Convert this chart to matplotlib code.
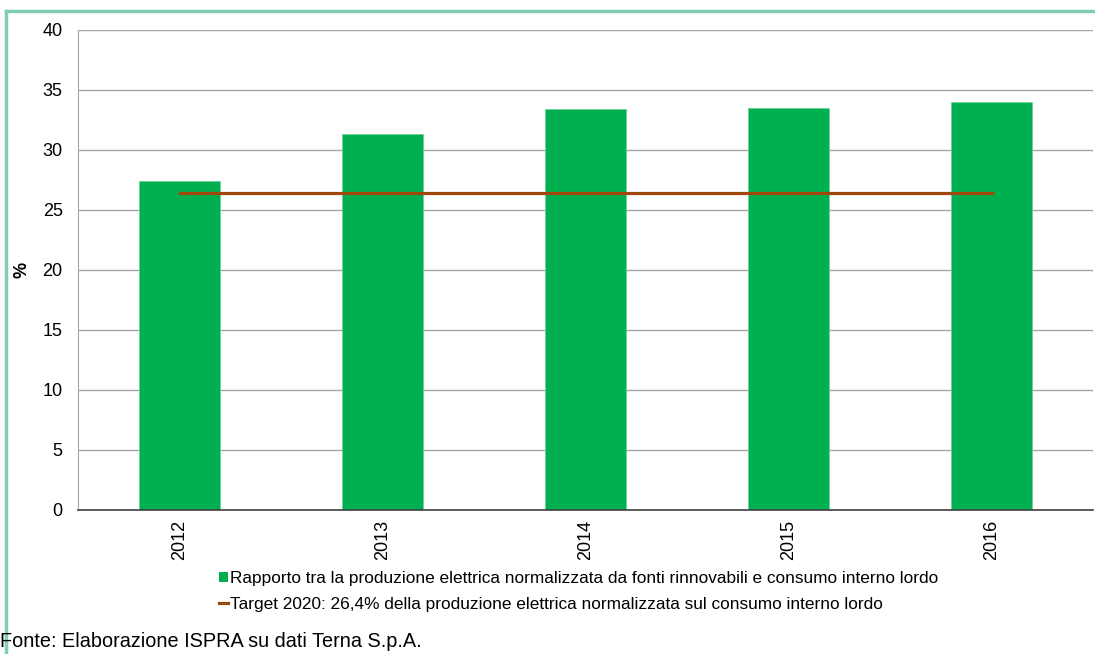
from matplotlib import pyplot as plt
from matplotlib.lines import Line2D
from matplotlib.patches import Patch
import numpy as np

years = ["2012", "2013", "2014", "2015", "2016"]
ratio = [27.4, 31.3, 33.4, 33.5, 34.0]
target = [26.4, 26.4, 26.4, 26.4, 26.4]

bar_label = "Rapporto tra la produzione elettrica normalizzata da fonti rinnovabili e consumo interno lordo"
line_label = "Target 2020: 26,4% della produzione elettrica normalizzata sul consumo interno lordo"
source = "Fonte: Elaborazione ISPRA su dati Terna S.p.A."

plt.rcParams['font.family'] = ['Liberation Sans', 'DejaVu Sans']

fig = plt.figure(figsize=(10.95, 6.54), dpi=100)
ax = fig.add_axes([78 / 1095, 1 - 510 / 654, (1093 - 78) / 1095, 480 / 654])

x = np.arange(len(years))
ax.bar(x, ratio, width=0.4, color="#00b050", edgecolor="#6fd39a", linewidth=0.6, zorder=2)
ax.plot(x, target, color="#a0470b", linewidth=2.3, zorder=3)

ax.set_xlim(-0.5, len(years) - 0.5)
ax.set_ylim(0, 40)
ax.set_yticks(np.arange(0, 41, 5))
ax.set_xticks(x)
ax.set_xticklabels(years, rotation=90)
ax.tick_params(axis="both", length=0, labelsize=13, colors="black")
ax.tick_params(axis="y", pad=11)
ax.tick_params(axis="x", pad=7)
ax.yaxis.grid(True, color="#a6a6a6", linewidth=1.0, zorder=0)
ax.set_axisbelow(True)
for s in ["top", "right"]:
    ax.spines[s].set_visible(False)
ax.spines["left"].set_color("#a6a6a6")
ax.spines["bottom"].set_color("#404040")
ax.spines["bottom"].set_linewidth(1.2)
ax.set_ylabel("%", fontsize=13, fontweight="bold", labelpad=9)

handles = [Patch(facecolor="#00b050", edgecolor="none"),
           Line2D([0], [0], color="#a0470b", linewidth=2.3)]
fig.legend(handles, [bar_label, line_label], loc="upper left",
           bbox_to_anchor=(219 / 1095, 1 - 571 / 654), frameon=False,
           handlelength=0.55, handleheight=0.55, handletextpad=0.1,
           labelspacing=0.62, borderpad=0, borderaxespad=0,
           prop={'size': 12.4})

fig.text(0 / 1095, 1 - 647 / 654, source, fontsize=14.3, va="baseline")

# green frame around the figure (top and left edges)
fig.add_artist(Line2D([6 / 1095, 1.0], [1 - 11 / 654] * 2, color="#82cdb4",
                      linewidth=2.5, transform=fig.transFigure))
fig.add_artist(Line2D([6 / 1095] * 2, [0, 1 - 11 / 654], color="#82cdb4",
                      linewidth=2.5, transform=fig.transFigure))

fig.savefig("out.png", dpi=100)
